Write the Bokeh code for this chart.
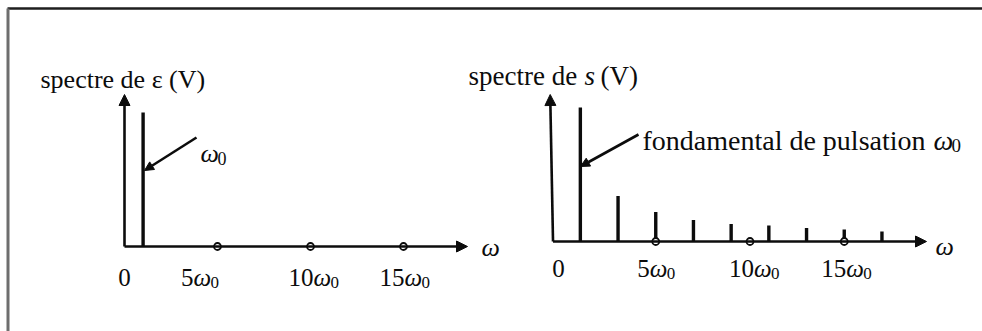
from bokeh.plotting import figure
from bokeh.models import Range1d, Arrow, NormalHead
from bokeh.embed import file_html
from bokeh.resources import INLINE
from bokeh.core.properties import value

# Spectrum of epsilon: a single line at the fundamental pulsation
eps_harmonics = [1]
eps_amplitudes = [1.0]

# Spectrum of s (square wave): odd harmonics only, decreasing amplitudes
s_harmonics = [1, 3, 5, 7, 9, 11, 13, 15, 17]
s_amplitudes = [1.0, 0.34, 0.22, 0.16, 0.13, 0.12, 0.10, 0.09, 0.075]

# Graduations of the pulsation axis, in multiples of omega_0
tick_multiples = [5, 10, 15]
tick_numbers = ["5", "10", "15"]

W, H = 982, 331
FONT = value("Liberation Serif")
INK = "#0c0c0c"

# Pixel layout of the two panels (origin x, baseline y, px per omega_0, px per volt)
X0L, BL, KXL = 124, 246, 18.6
X0R, BR, KXR = 561, 241, 18.85
KY = 134


def lx(px):
    return (px - X0L) / KXL


def ly(py):
    return (BL - py) / KY


def rx(px):
    return (px - X0R) / KXR


def ry(py):
    return (BR - py) / KY


p = figure(
    width=W, height=H,
    x_range=Range1d(lx(0), lx(W)), y_range=Range1d(ly(H), ly(0)),
    x_axis_type=None, y_axis_type=None,
    toolbar_location=None, output_backend="svg",
    min_border=0, outline_line_color=None,
    background_fill_color="white", border_fill_color="white",
)
p.extra_x_ranges = {"s": Range1d(rx(0), rx(W))}
p.extra_y_ranges = {"s": Range1d(ry(H), ry(0))}
p.grid.visible = False

R = dict(x_range_name="s", y_range_name="s")

# page frame: top rule and left rule
p.segment(x0=[lx(7)], y0=[ly(8)], x1=[lx(W + 5)], y1=[ly(8)], line_color="#1e1e1e", line_width=2.5)
p.segment(x0=[lx(7.5)], y0=[ly(8)], x1=[lx(7.5)], y1=[ly(H + 5)], line_color="#6e6e6e", line_width=3)


def head(size):
    return NormalHead(size=size, fill_color=INK, line_color=INK, line_width=1)


def txt(x, y, s, size, italic=False, align="left", dx=0, dy=0, ranges=None):
    kw = ranges or {}
    p.text(x=[x], y=[y], text=[s], x_offset=dx, y_offset=dy, text_font=FONT,
           text_font_style="italic" if italic else "normal", text_font_size=f"{size}px",
           text_color=INK, text_baseline="alphabetic", text_align=align, **kw)


# ---- left panel: spectre de epsilon ----
p.add_layout(Arrow(x_start=0, y_start=0, x_end=lx(467), y_end=0, end=head(11),
                   line_color=INK, line_width=2.6))
p.add_layout(Arrow(x_start=0, y_start=0, x_end=0, y_end=ly(94), end=head(11),
                   line_color=INK, line_width=2.6))
p.segment(x0=eps_harmonics, y0=[0] * len(eps_harmonics), x1=eps_harmonics, y1=eps_amplitudes,
          line_color=INK, line_width=3.4)
p.scatter(x=tick_multiples, y=[0] * len(tick_multiples), marker="circle", size=7,
          fill_color="white", line_color=INK, line_width=1.8)

txt(lx(40), ly(79), "spectre de ε (V)", 26)

p.add_layout(Arrow(x_start=lx(196), y_start=ly(137), x_end=lx(144), y_end=ly(170), end=head(9),
                   line_color=INK, line_width=2.6))
txt(lx(200), ly(153), "ω", 26, italic=True)
txt(lx(200), ly(153), "0", 18, dx=17, dy=5)

txt(lx(481), ly(247), "ω", 26, italic=True)

txt(0, ly(277), "0", 25, align="center")
left_shift = [-24, 3, 1]
for m, num, dx in zip(tick_multiples, tick_numbers, left_shift):
    txt(m, ly(277), num, 25, align="right", dx=dx)
    txt(m, ly(277), "ω", 25, italic=True, dx=dx)
    txt(m, ly(277), "0", 17, dx=dx + 17, dy=5)

# ---- right panel: spectre de s ----
p.add_layout(Arrow(x_start=-0.45, y_start=0, x_end=rx(926), y_end=0, end=head(11),
                   line_color=INK, line_width=2.6, **R))
p.add_layout(Arrow(x_start=-0.45, y_start=0, x_end=-0.6, y_end=ry(94), end=head(11),
                   line_color=INK, line_width=2.6, **R))
p.segment(x0=s_harmonics, y0=[0] * len(s_harmonics), x1=s_harmonics, y1=s_amplitudes,
          line_color=INK, line_width=3.4, **R)
p.scatter(x=tick_multiples, y=[0] * len(tick_multiples), marker="circle", size=7,
          fill_color="white", line_color=INK, line_width=1.8, **R)

txt(rx(468), ry(75), "spectre de", 27, ranges=R)
txt(rx(468), ry(75), "s", 27, italic=True, dx=116, ranges=R)
txt(rx(468), ry(75), "(V)", 27, dx=132, ranges=R)

p.add_layout(Arrow(x_start=rx(638), y_start=ry(134), x_end=rx(580), y_end=ry(166), end=head(9),
                   line_color=INK, line_width=2.6, **R))
txt(rx(642), ry(140), "fondamental de pulsation", 28, ranges=R)
txt(rx(933), ry(140), "ω", 28, italic=True, ranges=R)
txt(rx(933), ry(140), "0", 19, dx=18, dy=5, ranges=R)

txt(rx(935), ry(246), "ω", 26, italic=True, ranges=R)

txt(rx(558), ry(268), "0", 25, align="center", ranges=R)
right_shift = [-6, 4, 2]
for m, num, dx in zip(tick_multiples, tick_numbers, right_shift):
    txt(m, ry(268), num, 25, align="right", dx=dx, ranges=R)
    txt(m, ry(268), "ω", 25, italic=True, dx=dx, ranges=R)
    txt(m, ry(268), "0", 17, dx=dx + 17, dy=5, ranges=R)

open("out.html", "w").write(file_html(p, INLINE))
